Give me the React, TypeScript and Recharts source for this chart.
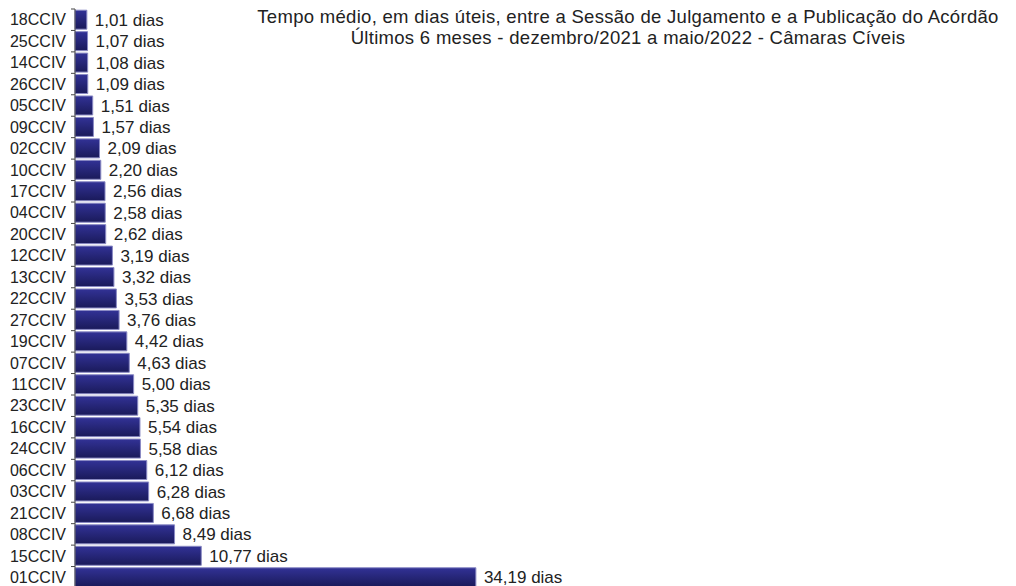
import { Bar, BarChart, LabelList, XAxis, YAxis } from "recharts"

const camaras = [
  "18CCIV", "25CCIV", "14CCIV", "26CCIV", "05CCIV", "09CCIV", "02CCIV", "10CCIV", "17CCIV",
  "04CCIV", "20CCIV", "12CCIV", "13CCIV", "22CCIV", "27CCIV", "19CCIV", "07CCIV", "11CCIV",
  "23CCIV", "16CCIV", "24CCIV", "06CCIV", "03CCIV", "21CCIV", "08CCIV", "15CCIV", "01CCIV",
]

const diasMedios = [
  1.01, 1.07, 1.08, 1.09, 1.51, 1.57, 2.09, 2.2, 2.56,
  2.58, 2.62, 3.19, 3.32, 3.53, 3.76, 4.42, 4.63, 5.0,
  5.35, 5.54, 5.58, 6.12, 6.28, 6.68, 8.49, 10.77, 34.19,
]

const titulo = [
  "Tempo médio, em dias úteis, entre a Sessão de Julgamento e a Publicação do Acórdão",
  "Últimos 6 meses - dezembro/2021 a maio/2022 - Câmaras Cíveis",
]

const data = camaras.map((name, i) => ({ name, dias: diasMedios[i] }))

const font = "'Liberation Sans', Arial, sans-serif"
const TICK_SIZE = 6
const TICK_MARGIN = 3
const TICK_LEN = 4

const fmtDias = (v: unknown) => `${Number(v).toFixed(2).replace(".", ",")} dias`

// label + short tick marks at the band edges (between categories)
function CamaraTick(props: any) {
  const { x, y, payload, index, visibleTicksCount } = props
  const half = payload?.offset ?? 0
  const lineX = x + TICK_MARGIN + TICK_SIZE
  const isLast = index === visibleTicksCount - 1
  return (
    <g>
      <text x={x} y={y} dy="0.355em" textAnchor="end" fill="#222" fontSize={16} fontFamily={font}>
        {payload.value}
      </text>
      <line x1={lineX - TICK_LEN} x2={lineX} y1={y - half} y2={y - half} stroke="#444" />
      {isLast && <line x1={lineX - TICK_LEN} x2={lineX} y1={y + half} y2={y + half} stroke="#444" />}
    </g>
  )
}

export default function App() {
  return (
    <div
      style={{
        position: "absolute",
        left: 0,
        top: 0,
        width: 1016,
        height: 586,
        overflow: "hidden",
        background: "#fff",
        fontFamily: font,
      }}
    >
      <div
        style={{
          position: "absolute",
          left: 240,
          width: 776,
          top: 7,
          textAlign: "center",
          fontSize: 18.5,
          letterSpacing: 0.3,
          lineHeight: "20.5px",
          color: "#222",
        }}
      >
        {titulo.map((t) => (
          <div key={t}>{t}</div>
        ))}
      </div>
      <BarChart
        width={1016}
        height={600}
        data={data}
        layout="vertical"
        margin={{ top: 9, right: 472, bottom: 12, left: 0 }}
        barCategoryGap={1.2}
      >
        <defs>
          <linearGradient id="barra" x1="0" y1="0" x2="0" y2="1">
            <stop offset="0%" stopColor="#323296" />
            <stop offset="100%" stopColor="#1a1a5a" />
          </linearGradient>
        </defs>
        <XAxis type="number" domain={[0, 40]} hide />
        <YAxis
          type="category"
          dataKey="name"
          width={75}
          tickLine={false}
          axisLine={{ stroke: "#444" }}
          tickSize={TICK_SIZE}
          tickMargin={TICK_MARGIN}
          interval={0}
          tick={<CamaraTick />}
        />
        <Bar dataKey="dias" fill="url(#barra)" stroke="#8a8ac4" strokeWidth={1} isAnimationActive={false}>
          <LabelList
            dataKey="dias"
            position="right"
            offset={8}
            formatter={fmtDias}
            style={{ fill: "#222", fontSize: 17, fontFamily: font }}
          />
        </Bar>
      </BarChart>
    </div>
  )
}
